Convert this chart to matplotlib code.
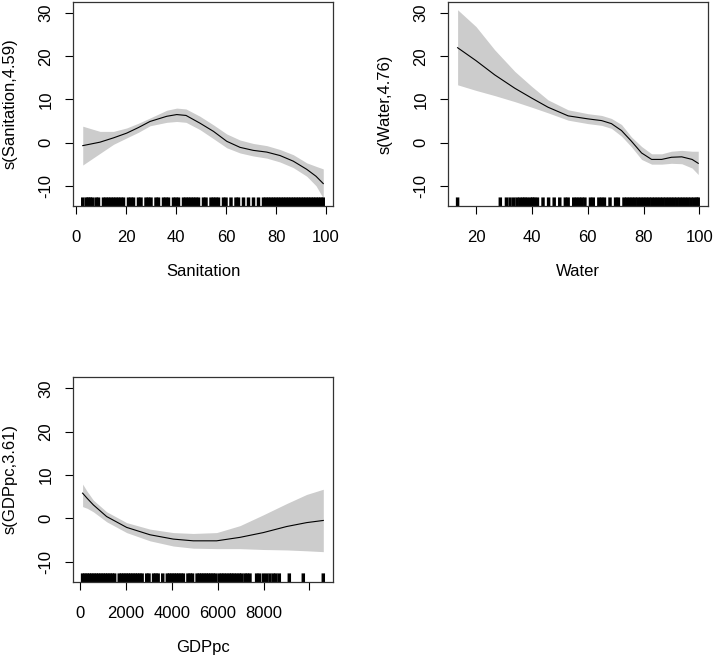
import matplotlib
matplotlib.use("Agg")
import matplotlib.pyplot as plt
from matplotlib.transforms import blended_transform_factory

plt.rcParams['font.family'] = ['Liberation Sans', 'DejaVu Sans']
plt.rcParams['font.size'] = 12

# Sanitation term
san_grid = [2.7, 9.6, 15, 20.3, 25, 29.6, 36.3, 40.3, 44, 49.6, 55, 60.3, 65.6, 70.9, 76.3, 81.6, 86.9, 92.3, 96, 98.9]
san_fit = [-0.7, 0.1, 1.1, 2.2, 3.5, 4.9, 6.1, 6.5, 6.3, 4.5, 2.6, 0.3, -1.1, -1.8, -2.2, -3.0, -4.3, -6.2, -7.8, -9.5]
san_upper = [3.8, 2.6, 2.6, 3.4, 4.5, 5.7, 7.5, 8.0, 7.8, 6.1, 4.1, 2.0, 0.6, -0.2, -0.7, -1.6, -2.8, -4.7, -5.5, -6.1]
san_lower = [-5.2, -2.5, -0.4, 1.1, 2.4, 3.9, 4.7, 4.9, 4.7, 3.0, 0.9, -1.2, -2.4, -3.1, -3.6, -4.5, -5.8, -7.8, -10.0, -12.9]
san_rug = [2.7, 4.1, 4.9, 5.7, 6.5, 8, 9, 11, 12, 13, 14, 15, 16, 17, 18, 19, 21, 22, 23, 25, 26,
           28, 29, 30, 32, 33, 35, 36, 37, 39, 40, 41, 43, 44, 45, 46, 47, 48, 49, 51, 52, 54, 55,
           56, 57, 59, 60, 62, 64, 65, 67, 69, 71, 73, 75, 76, 77, 78, 79, 80, 81, 82, 83, 84, 85,
           86, 87, 88, 89, 90, 91, 92, 93, 94, 95, 96, 97, 98, 98.9]

# Water term
wat_grid = [13.4, 20, 26.7, 33.9, 40, 45.8, 53, 60.1, 65, 68.5, 72.1, 75.7, 79.3, 82.9, 86.5, 90, 93.7, 97.4, 99.6]
wat_fit = [22.0, 19.0, 15.7, 12.6, 10.3, 8.2, 6.2, 5.5, 5.1, 4.4, 2.8, 0.3, -2.4, -3.9, -3.9, -3.4, -3.3, -3.9, -4.8]
wat_upper = [30.8, 26.9, 21.5, 16.5, 13.0, 9.9, 7.6, 6.7, 6.3, 5.6, 4.2, 1.3, -0.9, -2.6, -2.6, -2.0, -1.8, -2.0, -2.0]
wat_lower = [13.4, 12.1, 10.9, 9.5, 8.2, 6.9, 5.2, 4.4, 4.0, 3.3, 1.5, -1.0, -3.9, -5.0, -5.0, -4.8, -4.9, -5.9, -7.4]
wat_rug = [13.4, 28.7, 30.9, 32.2, 33.5, 34.7, 35.7, 36.7, 37.5, 38.4, 39.5, 40.3, 41, 42, 44, 46, 48,
           50, 52, 53, 55, 56, 57, 58, 59, 61, 62, 64, 65, 66, 68, 70, 71, 73, 74, 75, 76, 77, 78, 79,
           80, 81, 82, 83, 84, 85, 86, 87, 88, 89, 90, 91, 92, 93, 94, 95, 96, 97, 98, 99, 99.6]

# GDPpc term
gdp_grid = [100, 300, 568, 1150, 2023, 3042, 4061, 4934, 5953, 6972, 7991, 9010, 9883, 10611]
gdp_fit = [5.8, 4.6, 3.1, 0.4, -2.1, -3.8, -4.8, -5.2, -5.2, -4.4, -3.3, -1.9, -1.0, -0.5]
gdp_upper = [7.9, 6.2, 4.2, 1.5, -1.0, -2.5, -3.3, -3.5, -3.3, -1.7, 0.8, 3.4, 5.5, 6.7]
gdp_lower = [2.7, 2.3, 1.5, -0.8, -3.3, -5.2, -6.4, -6.9, -7.0, -7.0, -7.2, -7.3, -7.5, -7.7]
gdp_rug = [100, 200, 300, 400, 500, 600, 700, 800, 900, 1000, 1100, 1200, 1300, 1400, 1500, 1700,
           1800, 1900, 2000, 2100, 2200, 2300, 2400, 2500, 2600, 2700, 2900, 3000, 3200, 3300, 3400,
           3600, 3800, 3900, 4000, 4100, 4200, 4300, 4400, 4500, 4700, 4800, 4900, 5100, 5200, 5300,
           5400, 5500, 5600, 5700, 5800, 5900, 6055, 6172, 6274, 6390, 6507, 6608, 6710, 6827, 6943,
           7045, 7191, 7293, 7409, 7700, 7817, 7991, 8137, 8282, 8428, 8545, 8690, 9127, 9738, 10611]

y_ticks = [-10, 0, 10, 20, 30]


def draw_term(ax, grid, fit, upper, lower, rug, xlabel, ylabel, xlim, xticks, xticklabels):
    ax.fill_between(grid, lower, upper, color='#cccccc', lw=0)
    ax.plot(grid, fit, color='black', lw=0.8)
    trans = blended_transform_factory(ax.transData, ax.transAxes)
    ax.vlines(rug, 0, 0.042, transform=trans, color='black', lw=2.5, snap=False)
    ax.set_xlim(xlim)
    ax.set_ylim(-14.7, 32.6)
    ax.set_xticks(xticks)
    ax.set_xticklabels(xticklabels)
    ax.set_yticks(y_ticks)
    ax.set_yticklabels([str(v) for v in y_ticks], rotation=90, va='center')
    ax.tick_params(direction='out', length=6, width=0.8, pad=11, colors='black')
    ax.tick_params(axis='y', pad=8)
    for s in ax.spines.values():
        s.set_color('#333333')
        s.set_linewidth(0.9)
    ax.set_xlabel(xlabel, labelpad=14)
    ax.set_ylabel(ylabel, labelpad=15)


fig = plt.figure(figsize=(7.14, 6.59), dpi=100)
ax1 = fig.add_axes([73 / 714, 1 - 206 / 659, 260 / 714, 204 / 659])
ax2 = fig.add_axes([448 / 714, 1 - 206 / 659, 260 / 714, 204 / 659])
ax3 = fig.add_axes([73 / 714, 1 - 582 / 659, 260 / 714, 205 / 659])

draw_term(ax1, san_grid, san_fit, san_upper, san_lower, san_rug, "Sanitation",
          "s(Sanitation,4.59)", (-1.2, 102.8), [0, 20, 40, 60, 80, 100],
          ["0", "20", "40", "60", "80", "100"])
draw_term(ax2, wat_grid, wat_fit, wat_upper, wat_lower, wat_rug, "Water",
          "s(Water,4.76)", (9.96, 103.1), [20, 40, 60, 80, 100],
          ["20", "40", "60", "80", "100"])
draw_term(ax3, gdp_grid, gdp_fit, gdp_upper, gdp_lower, gdp_rug, "GDPpc",
          "s(GDPpc,3.61)", (-319, 11035), [0, 2000, 4000, 6000, 8000, 10000],
          ["0", "2000", "4000", "6000", "8000", ""])

fig.savefig("out.png", dpi=100)
